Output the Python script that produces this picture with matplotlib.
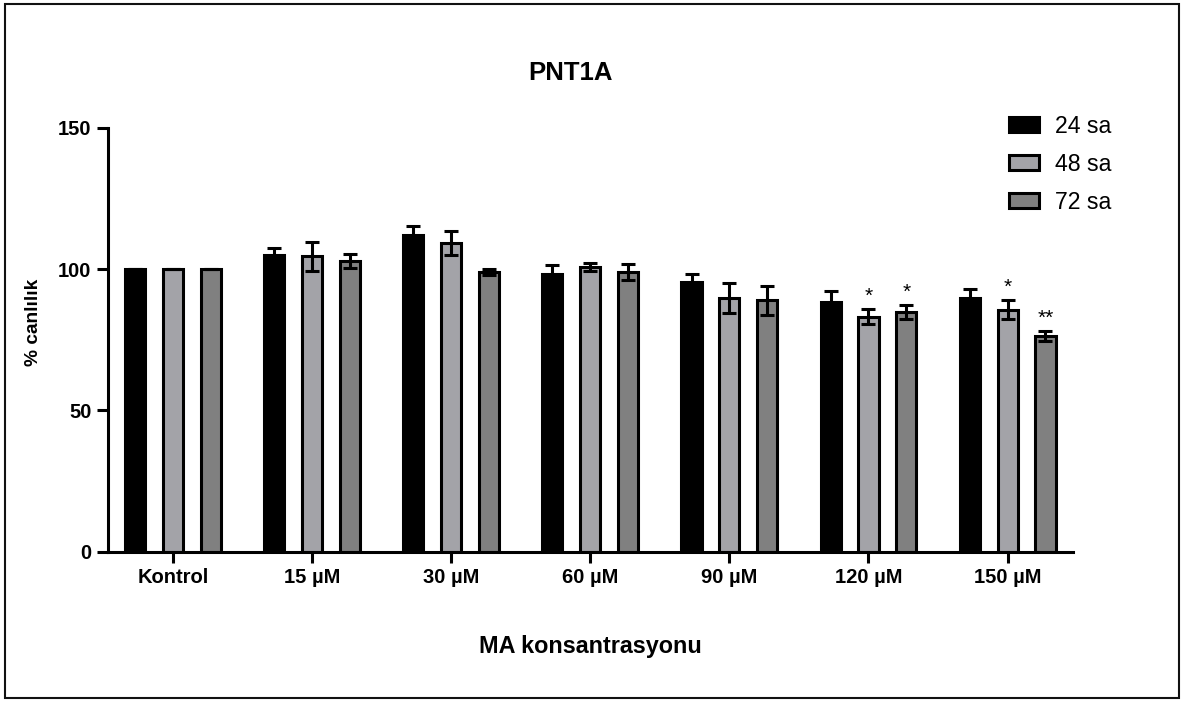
import matplotlib
matplotlib.use("Agg")
import matplotlib.pyplot as plt
from matplotlib.patches import Rectangle, Patch
import numpy as np

plt.rcParams['font.family'] = ['Liberation Sans', 'DejaVu Sans']

categories = ["Kontrol", "15 µM", "30 µM", "60 µM", "90 µM", "120 µM", "150 µM"]
series = ["24 sa", "48 sa", "72 sa"]

# mean viability (%) per series
v24 = [100, 105.1, 112.1, 98.1, 95.4, 88.3, 89.9]
v48 = [100, 104.5, 109.2, 100.7, 89.7, 83.1, 85.6]
v72 = [100, 102.9, 99.0, 99.0, 88.9, 84.8, 76.4]

# error bars (+/-)
e24 = [0, 2.3, 3.2, 3.2, 2.7, 3.9, 3.1]
e48 = [0, 5.1, 4.4, 1.5, 5.4, 2.7, 3.3]
e72 = [0, 2.4, 1.1, 2.9, 5.1, 2.5, 1.8]

# significance marks
s24 = ["", "", "", "", "", "", ""]
s48 = ["", "", "", "", "", "*", "*"]
s72 = ["", "", "", "", "", "*", "**"]

colors = ["#000000", "#a3a3a8", "#808080"]

fig = plt.figure(figsize=(11.87, 7.02), dpi=100)
ax = fig.add_axes([108/1187, 1 - 551.7/702, (1073-108)/1187, (551.7-127.7)/702])

x = np.arange(len(categories))
width = 0.145
offset = 0.272

for i, (vals, errs, sig) in enumerate(zip([v24, v48, v72], [e24, e48, e72], [s24, s48, s72])):
    pos = x + (i - 1) * offset
    ax.bar(pos, vals, width, color=colors[i], edgecolor="black", linewidth=2.2, zorder=2)
    ax.errorbar(pos, vals, yerr=errs, fmt="none", ecolor="black", elinewidth=2.2,
                capsize=5, capthick=2.2, zorder=3)
    for p, v, e, s in zip(pos, vals, errs, sig):
        if s:
            ax.text(p, v + e + 4.5, s, ha="center", va="center", fontsize=15, zorder=4)

ax.set_xlim(-0.466, 6.47)
ax.set_ylim(0, 150)
ax.set_yticks([0, 50, 100, 150])
ax.set_xticks(x)
ax.set_xticklabels(categories)
ax.spines["top"].set_visible(False)
ax.spines["right"].set_visible(False)
ax.spines["left"].set_linewidth(2.2)
ax.spines["bottom"].set_linewidth(2.2)
ax.tick_params(axis="both", width=2.2, length=8, labelsize=14.5, pad=4)
for lab in ax.get_xticklabels() + ax.get_yticklabels():
    lab.set_fontweight("bold")

fig.text(571/1187, 1 - 73/702, "PNT1A", ha="center", va="center", fontsize=18.5, fontweight="bold")
fig.text(590/1187, 1 - 647/702, "MA konsantrasyonu", ha="center", va="center", fontsize=16.8, fontweight="bold")
fig.text(34/1187, 1 - 322/702, "% canlılık", ha="center", va="center", rotation=90, fontsize=13.8, fontweight="bold")

handles = [Patch(facecolor=c, edgecolor="black", linewidth=2.2) for c in colors]
fig.legend(handles, series, loc="upper left", bbox_to_anchor=(1009/1187, 1 - 115/702),
           frameon=False, fontsize=16.7, handlelength=1.3, handleheight=0.6,
           handletextpad=0.7, labelspacing=0.64, borderpad=0, borderaxespad=0)

fig.add_artist(Rectangle((5/1187, 4/702), 1174/1187, 694/702, transform=fig.transFigure,
                         fill=False, edgecolor="#111111", linewidth=1.5))

fig.savefig("out.png", dpi=100)
